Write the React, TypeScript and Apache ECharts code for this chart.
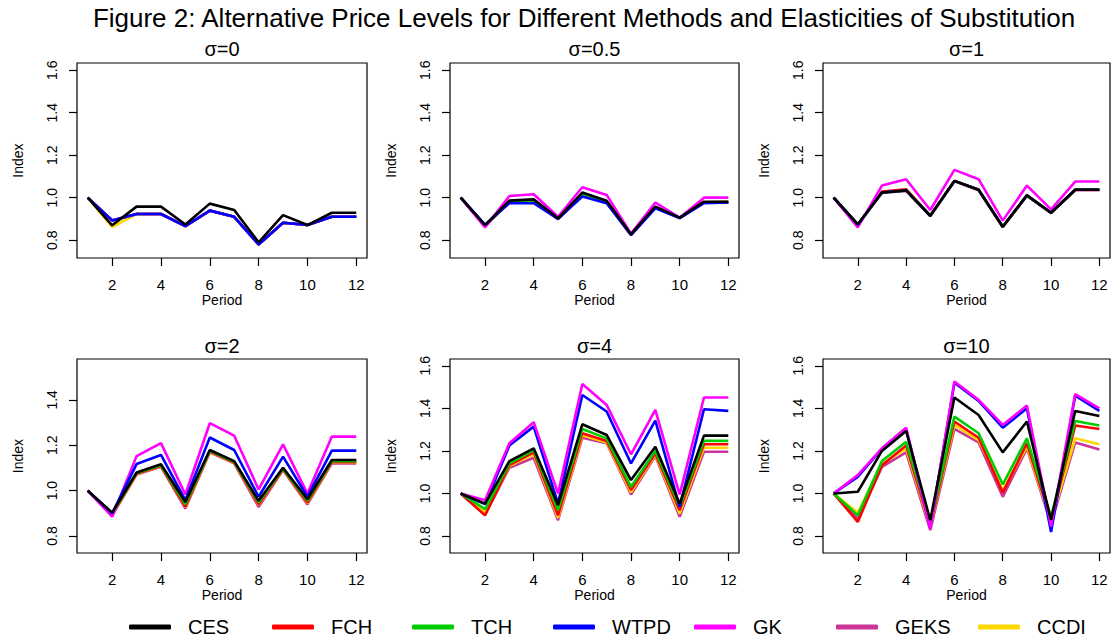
import React, { useEffect, useRef } from 'react';
import * as echarts from 'echarts';

const PERIODS = [1, 2, 3, 4, 5, 6, 7, 8, 9, 10, 11, 12];
const PANEL_TITLES = ['σ=0', 'σ=0.5', 'σ=1', 'σ=2', 'σ=4', 'σ=10'];
const METHODS = ['CES', 'FCH', 'TCH', 'WTPD', 'GK', 'GEKS', 'CCDI'];
const METHOD_COLORS = ['#000000', '#FF0000', '#00CD00', '#0000FF', '#FF00FF', '#CC3399', '#FFD700'];
const X_TICKS = [2, 4, 6, 8, 10, 12];
const Y_TICKS = [0.8, 1.0, 1.2, 1.4, 1.6];
const Y_TICKS_S2 = [0.8, 1.0, 1.2, 1.4];

// sigma = 0
const CES_0 = [1.0, 0.87, 0.958, 0.958, 0.874, 0.972, 0.942, 0.79, 0.918, 0.871, 0.929, 0.929];
const FCH_0 = [1.0, 0.893, 0.923, 0.923, 0.866, 0.939, 0.91, 0.78, 0.882, 0.871, 0.91, 0.91];
const TCH_0 = [1.0, 0.893, 0.923, 0.923, 0.866, 0.939, 0.91, 0.78, 0.882, 0.871, 0.91, 0.91];
const WTPD_0 = [1.0, 0.893, 0.923, 0.923, 0.866, 0.939, 0.91, 0.78, 0.882, 0.871, 0.91, 0.91];
const GK_0 = [1.0, 0.893, 0.923, 0.923, 0.866, 0.939, 0.91, 0.78, 0.882, 0.871, 0.91, 0.91];
const GEKS_0 = [1.0, 0.893, 0.923, 0.923, 0.866, 0.939, 0.91, 0.78, 0.882, 0.871, 0.91, 0.91];
const CCDI_0 = [1.0, 0.862, 0.923, 0.923, 0.866, 0.939, 0.91, 0.78, 0.882, 0.871, 0.91, 0.91];

// sigma = 0.5
const CES_05 = [1.0, 0.871, 0.986, 0.992, 0.903, 1.024, 0.986, 0.828, 0.958, 0.906, 0.981, 0.981];
const FCH_05 = [1.0, 0.868, 0.98, 0.985, 0.9, 1.015, 0.98, 0.826, 0.955, 0.905, 0.978, 0.979];
const TCH_05 = [1.0, 0.869, 0.981, 0.986, 0.901, 1.016, 0.981, 0.826, 0.955, 0.905, 0.978, 0.979];
const WTPD_05 = [1.0, 0.873, 0.974, 0.974, 0.9, 1.005, 0.974, 0.824, 0.95, 0.904, 0.974, 0.977];
const GK_05 = [1.0, 0.86, 1.008, 1.016, 0.91, 1.049, 1.013, 0.83, 0.977, 0.906, 1.0, 1.0];
const GEKS_05 = [1.0, 0.866, 0.978, 0.982, 0.899, 1.012, 0.978, 0.825, 0.953, 0.904, 0.976, 0.977];
const CCDI_05 = [1.0, 0.868, 0.98, 0.985, 0.9, 1.015, 0.98, 0.826, 0.955, 0.905, 0.978, 0.979];

// sigma = 1
const CES_1 = [1.0, 0.874, 1.024, 1.034, 0.915, 1.079, 1.037, 0.863, 1.011, 0.929, 1.037, 1.037];
const FCH_1 = [1.0, 0.872, 1.029, 1.04, 0.915, 1.079, 1.037, 0.863, 1.011, 0.929, 1.037, 1.037];
const TCH_1 = [1.0, 0.874, 1.024, 1.034, 0.915, 1.079, 1.037, 0.863, 1.011, 0.929, 1.037, 1.037];
const WTPD_1 = [1.0, 0.874, 1.024, 1.034, 0.915, 1.079, 1.037, 0.863, 1.011, 0.929, 1.037, 1.037];
const GK_1 = [1.0, 0.86, 1.057, 1.087, 0.942, 1.131, 1.087, 0.892, 1.057, 0.945, 1.076, 1.076];
const GEKS_1 = [1.0, 0.873, 1.022, 1.032, 0.913, 1.077, 1.035, 0.861, 1.009, 0.927, 1.035, 1.035];
const CCDI_1 = [1.0, 0.874, 1.024, 1.034, 0.915, 1.079, 1.037, 0.863, 1.011, 0.929, 1.037, 1.037];

// sigma = 2
const CES_2 = [1.0, 0.903, 1.08, 1.116, 0.95, 1.179, 1.13, 0.955, 1.101, 0.962, 1.135, 1.135];
const FCH_2 = [1.0, 0.895, 1.074, 1.109, 0.93, 1.172, 1.124, 0.94, 1.094, 0.948, 1.126, 1.126];
const TCH_2 = [1.0, 0.898, 1.077, 1.112, 0.94, 1.175, 1.127, 0.948, 1.097, 0.955, 1.13, 1.13];
const WTPD_2 = [1.0, 0.9, 1.117, 1.157, 0.958, 1.234, 1.179, 0.973, 1.15, 0.973, 1.176, 1.176];
const GK_2 = [1.0, 0.885, 1.152, 1.209, 0.983, 1.297, 1.242, 1.005, 1.204, 0.987, 1.238, 1.238];
const GEKS_2 = [1.0, 0.89, 1.071, 1.105, 0.921, 1.169, 1.12, 0.928, 1.091, 0.939, 1.12, 1.12];
const CCDI_2 = [1.0, 0.894, 1.073, 1.108, 0.928, 1.171, 1.123, 0.938, 1.093, 0.945, 1.125, 1.125];

// sigma = 4
const CES_4 = [1.0, 0.952, 1.152, 1.212, 0.945, 1.325, 1.275, 1.063, 1.22, 0.952, 1.272, 1.272];
const FCH_4 = [1.0, 0.897, 1.133, 1.193, 0.897, 1.283, 1.247, 1.016, 1.188, 0.921, 1.231, 1.231];
const TCH_4 = [1.0, 0.926, 1.141, 1.204, 0.921, 1.303, 1.259, 1.031, 1.2, 0.937, 1.247, 1.247];
const WTPD_4 = [1.0, 0.95, 1.225, 1.314, 0.953, 1.463, 1.385, 1.141, 1.342, 0.937, 1.396, 1.388];
const GK_4 = [1.0, 0.968, 1.236, 1.335, 1.0, 1.514, 1.416, 1.184, 1.393, 0.995, 1.451, 1.451];
const GEKS_4 = [1.0, 0.9, 1.121, 1.168, 0.874, 1.262, 1.236, 0.995, 1.176, 0.89, 1.196, 1.196];
const CCDI_4 = [1.0, 0.91, 1.128, 1.185, 0.885, 1.273, 1.24, 1.005, 1.182, 0.905, 1.215, 1.215];

// sigma = 10
const CES_10 = [1.0, 1.008, 1.2, 1.294, 0.874, 1.451, 1.369, 1.193, 1.338, 0.875, 1.388, 1.364];
const FCH_10 = [1.0, 0.866, 1.133, 1.225, 0.85, 1.338, 1.262, 1.004, 1.236, 0.875, 1.319, 1.303];
const TCH_10 = [1.0, 0.897, 1.152, 1.243, 0.86, 1.361, 1.283, 1.042, 1.259, 0.89, 1.341, 1.319];
const WTPD_10 = [1.0, 1.078, 1.21, 1.305, 0.84, 1.52, 1.435, 1.309, 1.4, 0.819, 1.46, 1.388];
const GK_10 = [1.0, 1.086, 1.212, 1.309, 0.835, 1.526, 1.44, 1.322, 1.413, 0.845, 1.467, 1.4];
const GEKS_10 = [1.0, 0.88, 1.125, 1.193, 0.827, 1.303, 1.24, 0.984, 1.212, 0.858, 1.24, 1.207];
const CCDI_10 = [1.0, 0.91, 1.14, 1.209, 0.845, 1.322, 1.251, 1.015, 1.22, 0.87, 1.259, 1.231];

const PANEL_DATA: Record<string, number[]>[] = [
  { CES: CES_0, FCH: FCH_0, TCH: TCH_0, WTPD: WTPD_0, GK: GK_0, GEKS: GEKS_0, CCDI: CCDI_0 },
  { CES: CES_05, FCH: FCH_05, TCH: TCH_05, WTPD: WTPD_05, GK: GK_05, GEKS: GEKS_05, CCDI: CCDI_05 },
  { CES: CES_1, FCH: FCH_1, TCH: TCH_1, WTPD: WTPD_1, GK: GK_1, GEKS: GEKS_1, CCDI: CCDI_1 },
  { CES: CES_2, FCH: FCH_2, TCH: TCH_2, WTPD: WTPD_2, GK: GK_2, GEKS: GEKS_2, CCDI: CCDI_2 },
  { CES: CES_4, FCH: FCH_4, TCH: TCH_4, WTPD: WTPD_4, GK: GK_4, GEKS: GEKS_4, CCDI: CCDI_4 },
  { CES: CES_10, FCH: FCH_10, TCH: TCH_10, WTPD: WTPD_10, GK: GK_10, GEKS: GEKS_10, CCDI: CCDI_10 },
];

// drawing order per panel (last on top)
const ORDER_A = ['GEKS', 'CCDI', 'FCH', 'TCH', 'GK', 'WTPD', 'CES'];
const ORDER_B = ['GEKS', 'CCDI', 'FCH', 'TCH', 'WTPD', 'GK', 'CES'];
const PANEL_ORDER = [ORDER_A, ORDER_A, ORDER_A, ORDER_A, ORDER_B, ORDER_B];

const FONT = '"Liberation Sans", Arial, Helvetica, sans-serif';

const GRIDS = [
  { left: 77, top: 63, width: 290, height: 195 },
  { left: 450, top: 63, width: 289, height: 195 },
  { left: 823, top: 63, width: 287, height: 195 },
  { left: 77, top: 359, width: 290, height: 194 },
  { left: 450, top: 359, width: 289, height: 194 },
  { left: 823, top: 359, width: 287, height: 194 },
];
const Y_RANGES = [
  [0.716, 1.634],
  [0.716, 1.634],
  [0.716, 1.634],
  [0.725, 1.58],
  [0.72, 1.632],
  [0.72, 1.632],
];
const LEGEND_X = [129, 272, 412, 553, 694, 836, 978];

function buildOption() {
  const grid = GRIDS.map((g) => ({ ...g, show: true, borderColor: '#000', borderWidth: 1.2, backgroundColor: 'transparent' }));
  const xAxis = GRIDS.map((_, i) => ({
    type: 'value',
    gridIndex: i,
    min: 0.56,
    max: 12.44,
    name: 'Period',
    nameLocation: 'middle',
    nameGap: 32,
    nameTextStyle: { fontFamily: FONT, fontSize: 14, color: '#000' },
    axisLine: { show: false, onZero: false },
    axisTick: { show: true, length: 8, customValues: X_TICKS, lineStyle: { color: '#000', width: 1.2 } },
    axisLabel: { customValues: X_TICKS, fontFamily: FONT, fontSize: 15, color: '#000', margin: 19 },
    splitLine: { show: false },
  }));
  const yAxis = GRIDS.map((_, i) => ({
    type: 'value',
    gridIndex: i,
    min: Y_RANGES[i][0],
    max: Y_RANGES[i][1],
    name: 'Index',
    nameLocation: 'middle',
    nameGap: 52,
    nameTextStyle: { fontFamily: FONT, fontSize: 14, color: '#000' },
    axisLine: { show: false, onZero: false },
    axisTick: { show: true, length: 8, customValues: i === 3 ? Y_TICKS_S2 : Y_TICKS, lineStyle: { color: '#000', width: 1.2 } },
    axisLabel: {
      customValues: i === 3 ? Y_TICKS_S2 : Y_TICKS,
      rotate: 90,
      fontFamily: FONT,
      fontSize: 14,
      color: '#000',
      margin: 18,
      formatter: (v: number) => v.toFixed(1),
    },
    splitLine: { show: false },
  }));
  const series: any[] = [];
  PANEL_DATA.forEach((pd, i) => {
    PANEL_ORDER[i].forEach((m) => {
      const color = METHOD_COLORS[METHODS.indexOf(m)];
      series.push({
        type: 'line',
        name: m,
        xAxisIndex: i,
        yAxisIndex: i,
        data: PERIODS.map((p, k) => [p, pd[m][k]]),
        symbol: 'none',
        showSymbol: false,
        color,
        itemStyle: { color },
        lineStyle: { color, width: 2.6 },
        silent: true,
        emphasis: { disabled: true },
      });
    });
  });
  const legend = METHODS.map((m, i) => ({
    data: [m],
    left: LEGEND_X[i],
    top: 617,
    orient: 'horizontal',
    padding: 0,
    itemWidth: 42,
    itemHeight: 5,
    icon: 'roundRect',
    selectedMode: false,
    textStyle: { fontFamily: FONT, fontSize: 20, color: '#000', padding: [0, 0, 0, 12] },
  }));
  const graphic: any[] = [
    {
      type: 'text',
      x: 584,
      y: 18,
      style: {
        text: 'Figure 2: Alternative Price Levels for Different Methods and Elasticities of Substitution',
        fontFamily: FONT,
        fontSize: 26,
        fill: '#000',
        textAlign: 'center',
        textVerticalAlign: 'middle',
      },
    },
  ];
  GRIDS.forEach((g, i) => {
    graphic.push({
      type: 'text',
      x: g.left + g.width / 2,
      y: i < 3 ? 49 : 346,
      style: {
        text: PANEL_TITLES[i],
        fontFamily: FONT,
        fontSize: 20,
        fill: '#000',
        textAlign: 'center',
        textVerticalAlign: 'middle',
      },
    });
  });
  return {
    animation: false,
    backgroundColor: '#fff',
    grid,
    xAxis,
    yAxis,
    series,
    legend,
    graphic,
  };
}

export default function App() {
  const ref = useRef<HTMLDivElement>(null);
  useEffect(() => {
    document.body.style.margin = '0';
    const chart = echarts.init(ref.current!, null, { renderer: 'svg' });
    chart.setOption(buildOption() as any);
    return () => chart.dispose();
  }, []);
  return <div ref={ref} style={{ width: 1111, height: 642 }} />;
}
